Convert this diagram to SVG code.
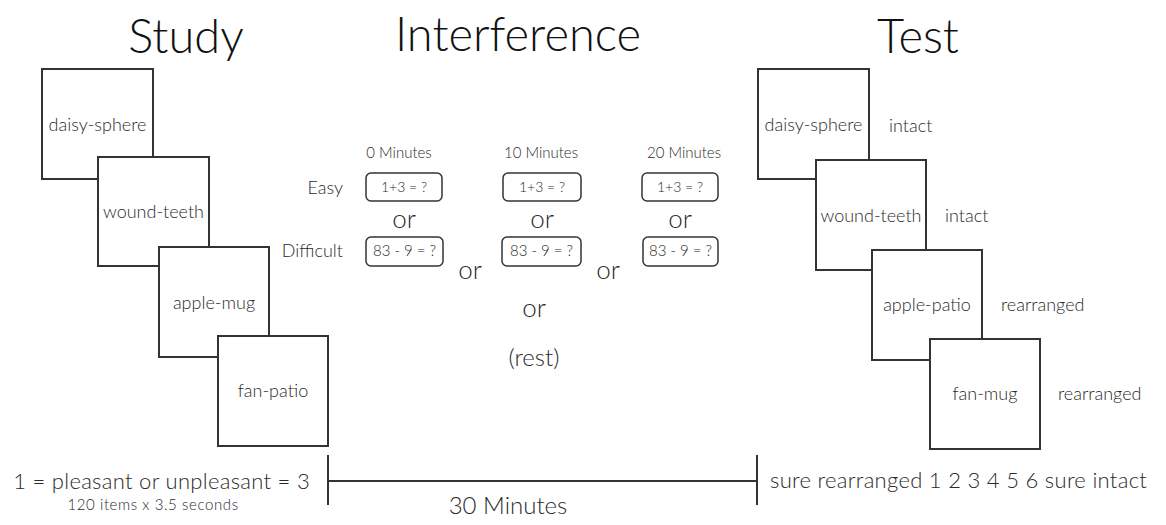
<svg xmlns="http://www.w3.org/2000/svg" width="1166" height="525" viewBox="0 0 1166 525">
<style>
text{font-family:Lato,"Liberation Sans",sans-serif;font-weight:300;fill:#2a2a2a}
.title{font-size:47px;fill:#111;text-anchor:middle}
.lbl{font-size:18px;text-anchor:middle}
.side{font-size:18px}
.hdr{font-size:15px;text-anchor:middle}
.eq{font-size:14px;text-anchor:middle}
.or{font-size:26px;text-anchor:middle}
.card{fill:#fff;stroke:#333;stroke-width:2}
.q{fill:#fff;stroke:#333;stroke-width:1.5}
.ln{stroke:#333;stroke-width:2;fill:none}
</style>
<text class="title" x="186" y="53">Study</text>
<text class="title" x="518" y="51">Interference</text>
<text class="title" x="918" y="53">Test</text>

<g id="study-1"><rect class="card" x="42" y="69" width="111" height="110"/><text class="lbl" x="97.5" y="131">daisy-sphere</text></g>
<g id="study-2"><rect class="card" x="98" y="157" width="111" height="109"/><text class="lbl" x="153.5" y="218">wound-teeth</text></g>
<g id="study-3"><rect class="card" x="159" y="247" width="110" height="110"/><text class="lbl" x="214" y="309">apple-mug</text></g>
<g id="study-4"><rect class="card" x="218" y="336" width="110" height="110"/><text class="lbl" x="273" y="397">fan-patio</text></g>

<g id="test-1"><rect class="card" x="758" y="69" width="111" height="110"/><text class="lbl" x="813.5" y="131">daisy-sphere</text><text class="side" x="889" y="132">intact</text></g>
<g id="test-2"><rect class="card" x="816" y="160" width="110" height="110"/><text class="lbl" x="871" y="222">wound-teeth</text><text class="side" x="945" y="222">intact</text></g>
<g id="test-3"><rect class="card" x="872" y="250" width="110" height="110"/><text class="lbl" x="927" y="311">apple-patio</text><text class="side" x="1001" y="311">rearranged</text></g>
<g id="test-4"><rect class="card" x="930" y="339" width="110" height="110"/><text class="lbl" x="985" y="400">fan-mug</text><text class="side" x="1058" y="400">rearranged</text></g>

<g id="interference">
<text class="hdr" x="399" y="158">0 Minutes</text>
<text class="hdr" x="541" y="158">10 Minutes</text>
<text class="hdr" x="684" y="158">20 Minutes</text>
<text class="side" x="343" y="194" text-anchor="end">Easy</text>
<text class="side" x="343" y="257" text-anchor="end">Difficult</text>
<g id="easy-0"><rect class="q" x="366" y="173" width="76" height="28" rx="5"/><text class="eq" x="404" y="192">1+3 = ?</text></g>
<g id="easy-10"><rect class="q" x="503" y="173" width="78" height="28" rx="5"/><text class="eq" x="542" y="192">1+3 = ?</text></g>
<g id="easy-20"><rect class="q" x="642" y="173" width="76" height="28" rx="5"/><text class="eq" x="680" y="192">1+3 = ?</text></g>
<text class="or" x="404" y="228">or</text>
<text class="or" x="542" y="228">or</text>
<text class="or" x="680" y="228">or</text>
<g id="diff-0"><rect class="q" x="366" y="237" width="77" height="29" rx="5"/><text class="eq" x="404.5" y="256" style="font-size:15px">83 - 9 = ?</text></g>
<g id="diff-10"><rect class="q" x="502" y="237" width="79" height="29" rx="5"/><text class="eq" x="541.5" y="256" style="font-size:15px">83 - 9 = ?</text></g>
<g id="diff-20"><rect class="q" x="643" y="237" width="75" height="29" rx="5"/><text class="eq" x="680.5" y="256" style="font-size:15px">83 - 9 = ?</text></g>
<text class="or" x="470" y="279">or</text>
<text class="or" x="608" y="279">or</text>
<text class="or" x="534" y="317">or</text>
<text class="or" x="534" y="366" style="font-size:24px">(rest)</text>
</g>

<g id="connectors">
<line class="ln" x1="328" y1="455" x2="328" y2="505"/>
<line class="ln" x1="757" y1="455" x2="757" y2="505"/>
<line class="ln" x1="328" y1="481" x2="757" y2="481"/>
</g>
<text x="310" y="489" text-anchor="end" style="font-size:22px;letter-spacing:0.3px">1 = pleasant or unpleasant = 3</text>
<text x="153" y="510" text-anchor="middle" style="font-size:15px;letter-spacing:0.6px">120 items x 3.5 seconds</text>
<text x="508" y="514" text-anchor="middle" style="font-size:24px">30 Minutes</text>
<text x="770" y="488" style="font-size:22px;letter-spacing:0.3px">sure rearranged 1 2 3 4 5 6 sure intact</text>
</svg>
